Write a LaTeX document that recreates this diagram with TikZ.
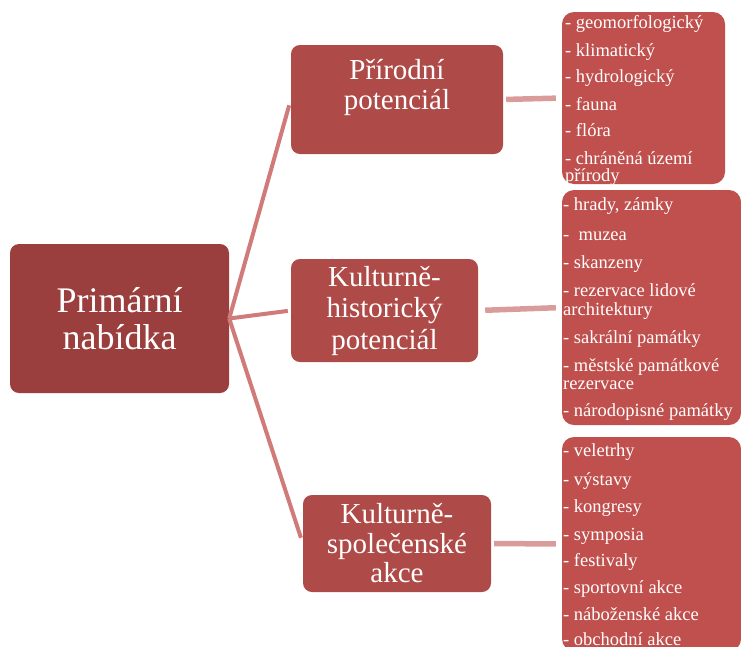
\documentclass[tikz,border=0pt]{standalone}
\usepackage{fontspec}
\setmainfont{Liberation Serif}
\definecolor{rootred}{HTML}{9B3F3E}
\definecolor{midred}{HTML}{AE4A47}
\definecolor{listred}{HTML}{C0504D}
\definecolor{rootline}{HTML}{D07B79}
\definecolor{listline}{HTML}{DA9C9B}

\begin{document}
\begin{tikzpicture}[x=1pt,y=-1pt]

        \useasboundingbox (0,0) rectangle (741,646);
        \clip (0,0) rectangle (741,646);

        \begin{scope}[every node/.style={rectangle,rounded corners=9pt,inner sep=0pt,text=white,align=center}]
          \node[fill=rootred,minimum width=219pt,minimum height=149pt,font=\fontsize{36}{37}\selectfont] (prim) at (119.5,318.5) {Primární\\nabídka};
          \node[fill=midred,minimum width=212pt,minimum height=109pt,font=\fontsize{29}{30}\selectfont] (nat) at (397,99.5) {Přírodní\\potenciál\\\mbox{}};
          \node[fill=midred,minimum width=187pt,minimum height=103pt,font=\fontsize{29}{31.5}\selectfont] (kh) at (384.5,310.5) {Kulturně-\\historický\\potenciál};
          \node[fill=midred,minimum width=188pt,minimum height=97pt,font=\fontsize{29}{29.5}\selectfont] (ks) at (397,543.5) {Kulturně-\\společenské\\akce};
        \end{scope}

        \begin{scope}[every node/.style={rectangle,rounded corners=12pt,inner sep=0pt,fill=listred}]
          \node[minimum width=163pt,minimum height=172pt] (natbox) at (643.5,98) {};
          \node[minimum width=179pt,minimum height=235pt] (khbox) at (651.5,307.5) {};
          \node[minimum width=179pt,minimum height=214pt] (ksbox) at (651.5,544) {};
        \end{scope}

        \begin{scope}[every node/.style={anchor=base west,inner sep=0pt,text=white,font=\fontsize{18.5}{17.5}\selectfont}]
          \foreach \yy/\txt [count=\i] in {28/{- geomorfologický},56.7/{- klimatický},82.7/{- hydrologický},110/{- fauna},136.7/{- flóra},164.3/{- chráněná území},181.7/{přírody}}
            \node (nat-\i) at (565,\yy) {\txt};
          \foreach \yy/\txt [count=\i] in {210/{- hrady, zámky},240/{-~~muzea},268.3/{- skanzeny},296.7/{- rezervace lidové},315/{architektury},343.3/{- sakrální památky},371.7/{- městské památkové},389/{rezervace},416.7/{- národopisné památky}}
            \node (kh-\i) at (563,\yy) {\txt};
          \foreach \yy/\txt [count=\i] in {456.7/{- veletrhy},485/{- výstavy},512.3/{- kongresy},540/{- symposia},566.7/{- festivaly},593.3/{- sportovní akce},620/{- náboženské akce},645/{- obchodní akce}}
            \node (ks-\i) at (563,\yy) {\txt};
        \end{scope}

        \begin{scope}[every edge/.style={draw=rootline,line width=4pt}]
          \path (prim.east) edge[shorten >=6pt] (nat.west);
          \path (prim.east) edge[shorten >=3pt] (kh.west);
          \path (prim.east) edge[shorten >=6pt] (ks.west);
        \end{scope}

        \begin{scope}[every edge/.style={draw=listline,line width=5.5pt}]
          \path (nat.east) edge[shorten <=3pt,shorten >=6pt] (natbox.west);
          \path (kh.east) edge[shorten <=7pt,shorten >=6pt] (khbox.west);
          \path (ks.east) edge[shorten <=3pt,shorten >=6pt] (ksbox.west);
        \end{scope}

      \end{tikzpicture}
\end{document}
